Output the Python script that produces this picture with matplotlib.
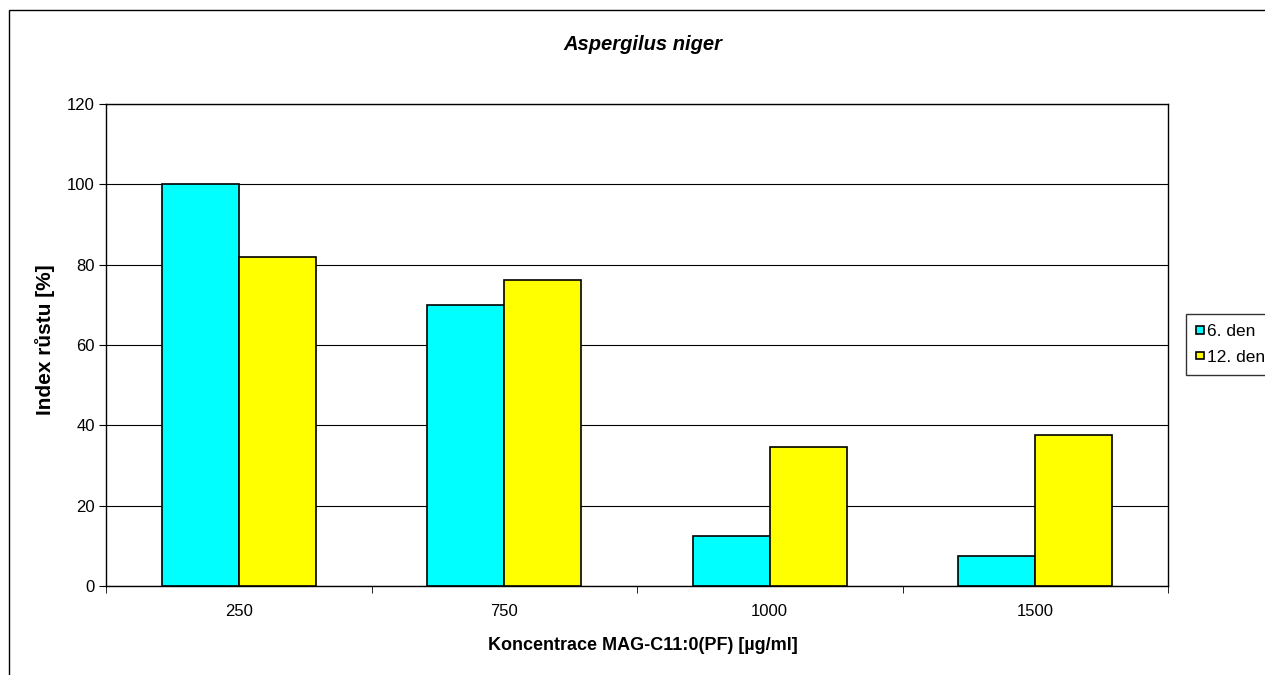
import numpy as np
import matplotlib.pyplot as plt
from matplotlib.patches import Rectangle

plt.rcParams['font.family'] = ['Liberation Sans', 'DejaVu Sans']

# Growth index for each concentration, two measurement days
concentrations = ["250", "750", "1000", "1500"]
day6 = [100, 70, 12.5, 7.5]
day12 = [82, 76.2, 34.7, 37.6]
series_labels = ["6. den", "12. den"]

fig = plt.figure(figsize=(12.65, 6.75), dpi=100)
W, H = 1265, 675

# outer chart frame (runs off the right and bottom edges)
fig.patches.append(Rectangle((9 / W, -0.1), 1.2, 1 - 10 / H + 0.1,
                             transform=fig.transFigure, fill=False,
                             edgecolor="black", linewidth=1.0))

ax = fig.add_axes([106 / W, 1 - 586 / H, (1168 - 106) / W, (586 - 104) / H])

x = np.arange(len(concentrations))
width = 0.29
ax.bar(x - width / 2, day6, width, color="#00FFFF", edgecolor="black",
       linewidth=1.2, label=series_labels[0], zorder=3)
ax.bar(x + width / 2, day12, width, color="#FFFF00", edgecolor="black",
       linewidth=1.2, label=series_labels[1], zorder=3)

ax.set_xlim(-0.5, len(concentrations) - 0.5)
ax.set_ylim(0, 120)
ax.set_yticks(np.arange(0, 121, 20))
ax.yaxis.grid(True, color="black", linewidth=0.8, zorder=0)

ax.set_xticks(x)
ax.set_xticklabels(concentrations)
ax.tick_params(axis="x", length=0, pad=13, labelsize=12)
# category separators on the x axis
ax.set_xticks(np.arange(-0.5, len(concentrations)), minor=True)
ax.tick_params(axis="x", which="minor", length=5, direction="out")
ax.tick_params(axis="y", length=5, direction="out", labelsize=12, pad=3)

for s in ax.spines.values():
    s.set_color("black")
    s.set_linewidth(1.0)

fig.text(643 / W, 1 - 45 / H, "Aspergilus niger", fontsize=14.5,
         fontweight="bold", fontstyle="italic", ha="center", va="center")
fig.text(643 / W, 1 - 645 / H, "Koncentrace MAG-C11:0(PF) [µg/ml]",
         fontsize=13, fontweight="bold", ha="center", va="center")
fig.text(45 / W, 1 - 340 / H, "Index růstu [%]", fontsize=15,
         fontweight="bold", ha="center", va="center", rotation=90)

leg = fig.legend(loc="upper left", bbox_to_anchor=(1186 / W, 1 - 314 / H),
                 frameon=True, fancybox=False, fontsize=12.5,
                 handlelength=0.45, handleheight=0.3, handletextpad=0.15,
                 borderpad=0.6, labelspacing=0.6, borderaxespad=0)
leg.get_frame().set_edgecolor("black")
leg.get_frame().set_linewidth(1.0)

fig.savefig("out.png", dpi=100)
